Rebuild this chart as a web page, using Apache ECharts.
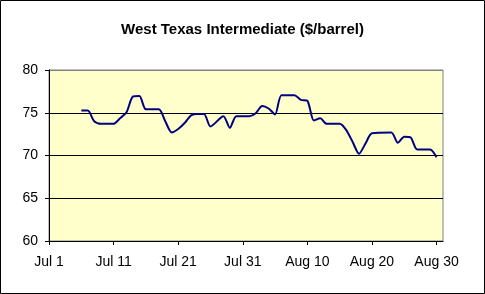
<!DOCTYPE html>
<html>
<head>
<meta charset="utf-8">
<script src="https://cdn.jsdelivr.net/npm/echarts@6/dist/echarts.min.js"></script>
<style>
html,body{margin:0;padding:0;background:#fff;}
#c{width:485px;height:294px;}
</style>
</head>
<body>
<div id="c"></div>
<script>
// Dates of the readings (month-day) and WTI price in $/barrel
var dates = ["07-06","07-07","07-08","07-09","07-11","07-12","07-13","07-14","07-15","07-16","07-18","07-19","07-20","07-21","07-22","07-23","07-24","07-25","07-26","07-28","07-29","07-30","08-01","08-02","08-03","08-04","08-05","08-06","08-08","08-09","08-10","08-11","08-12","08-13","08-15","08-16","08-17","08-18","08-19","08-20","08-23","08-24","08-25","08-26","08-27","08-29","08-30"];
var prices = [75.25,75.25,74.0,73.7,73.7,74.35,75.05,76.9,76.95,75.4,75.4,74.0,72.7,73.1,73.8,74.7,74.85,74.85,73.4,74.6,73.25,74.6,74.6,74.95,75.8,75.5,74.8,77.05,77.05,76.5,76.4,74.1,74.35,73.7,73.7,73.0,71.6,70.2,71.4,72.6,72.7,71.5,72.2,72.1,70.7,70.7,69.8];
var xTickDays = [0,10,20,30,40,50,60];
var xTickLabels = ["Jul 1","Jul 11","Jul 21","Jul 31","Aug 10","Aug 20","Aug 30"];
var yMin = 60, yMax = 80, yStep = 5;

function dayOf(md){
  var p = md.split('-'); var m = +p[0], d = +p[1];
  return (m === 7 ? 0 : 31) + d - 1;
}
var seriesData = dates.map(function(d,i){ return [dayOf(d), prices[i]]; });

var chart = echarts.init(document.getElementById('c'), null, {renderer:'canvas'});
chart.setOption({
  animation:false,
  backgroundColor:'#ffffff',
  title:{
    text:'West Texas Intermediate ($/barrel)',
    left:'center', top:17,
    textStyle:{fontFamily:'Liberation Sans', fontWeight:'bold', fontSize:15, color:'#000'}
  },
  graphic:[{type:'rect', shape:{x:0.5,y:0.5,width:484,height:293}, style:{fill:'none', stroke:'#000', lineWidth:1}, silent:true}],
  grid:{left:49, right:42, top:70, bottom:53, show:true, backgroundColor:'#FFFFCC', borderColor:'#808080', borderWidth:1},
  xAxis:{
    type:'value', min:0, max:61,
    axisLine:{show:true, lineStyle:{color:'#000', width:1}},
    axisTick:{show:true, length:4, inside:false, customValues:xTickDays, lineStyle:{color:'#000'}},
    axisLabel:{customValues:xTickDays, margin:14, fontFamily:'Liberation Sans', fontSize:14, color:'#000',
      formatter:function(v){ var i = xTickDays.indexOf(Math.round(v)); return i>=0 ? xTickLabels[i] : ''; }},
    splitLine:{show:false}
  },
  yAxis:{
    type:'value', min:yMin, max:yMax, interval:yStep,
    axisLine:{show:true, lineStyle:{color:'#000', width:1}},
    axisTick:{show:true, length:4, lineStyle:{color:'#000'}},
    axisLabel:{margin:11, fontFamily:'Liberation Sans', fontSize:14, color:'#000'},
    splitLine:{show:true, lineStyle:{color:['#000','#000','#000','#000','#808080'], width:1}}
  },
  series:[{
    type:'line', data:seriesData, showSymbol:false, smooth:0.25,
    lineStyle:{color:'#000080', width:2}, itemStyle:{color:'#000080'}
  }]
});
</script>
</body>
</html>
